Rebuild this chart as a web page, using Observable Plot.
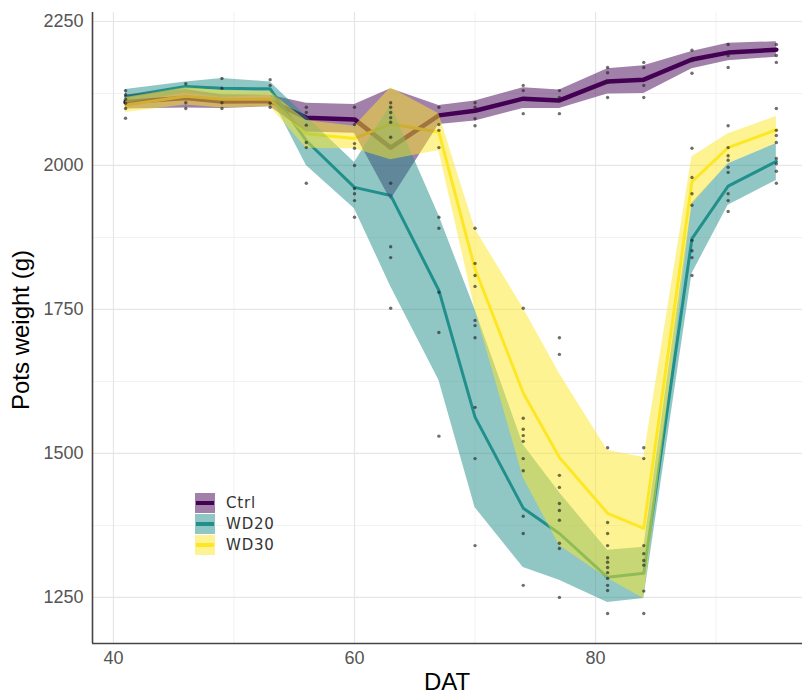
<!DOCTYPE html>
<html>
<head>
<meta charset="utf-8">
<script src="https://cdn.jsdelivr.net/npm/d3@7"></script>
<script src="https://cdn.jsdelivr.net/npm/@observablehq/plot@0.6"></script>
<style>
  body { margin: 0; background: #fff; }
  #wrap { position: relative; width: 802px; height: 695px; overflow: hidden; }
  #wrap svg { position: absolute; left: 0; top: 0; }
  .title { position: absolute; font-family: "Liberation Sans", Arial, sans-serif; font-size: 24px; color: #000; white-space: nowrap; }
  #xtitle { left: 447px; top: 668px; transform: translateX(-50%); }
  #ytitle { left: 21px; top: 330px; transform: translate(-50%, -50%) rotate(-90deg); }
  #legend { position: absolute; left: 195px; top: 492px; font-family: "DejaVu Sans", sans-serif; font-size: 15px; color: #333; letter-spacing: 0.8px; }
  .item { display: flex; align-items: center; height: 21px; }
  .key { position: relative; width: 20px; height: 20px; margin-right: 11px; background: #fff; }
  .key .ln { position: absolute; left: 1px; right: 1px; top: 8px; height: 4px; }
  .key .fl { position: absolute; left: 0; right: 0; top: 0; bottom: 0; }
</style>
</head>
<body>
<div id="wrap">
  <div id="xtitle" class="title">DAT</div>
  <div id="ytitle" class="title">Pots weight (g)</div>
  <div id="legend"></div>
</div>
<script>
// ---- data ----
const days = [41, 46, 49, 53, 56, 60, 63, 67, 70, 74, 77, 81, 84, 88, 91, 95];
const groups = ["Ctrl", "WD20", "WD30"];

const ctrlMean  = [2110, 2117, 2111, 2112, 2083, 2080, 2031, 2087, 2095, 2116, 2113, 2146, 2149, 2184, 2196, 2201];
const ctrlLower = [2098, 2100, 2099, 2102, 2058, 2056, 1940, 2071, 2077, 2099, 2099, 2124, 2125, 2168, 2182, 2188];
const ctrlUpper = [2122, 2132, 2123, 2122, 2108, 2106, 2133, 2104, 2112, 2135, 2131, 2168, 2173, 2198, 2212, 2215];

const wd20Mean  = [2120, 2137, 2134, 2133, 2043, 1962, 1948, 1783, 1563, 1405, 1361, 1285, 1292, 1873, 1964, 2007];
const wd20Lower = [2108, 2126, 2118, 2122, 2000, 1925, 1790, 1627, 1406, 1302, 1280, 1241, 1248, 1812, 1931, 1974];
const wd20Upper = [2132, 2145, 2151, 2145, 2085, 2005, 2105, 1913, 1750, 1515, 1432, 1332, 1337, 1935, 2003, 2038];

const wd30Mean  = [2105, 2120, 2115, 2115, 2055, 2047, 2072, 2058, 1820, 1605, 1493, 1396, 1370, 1972, 2031, 2062];
const wd30Lower = [2092, 2105, 2100, 2102, 2030, 2029, 2010, 2026, 1750, 1458, 1340, 1283, 1248, 1932, 2003, 2038];
const wd30Upper = [2118, 2135, 2130, 2128, 2078, 2068, 2135, 2090, 1890, 1752, 1639, 1505, 1493, 2015, 2055, 2085];

// individual pots
const dotDay = [
  41,41,41,41,41,41,
  46,46,46,
  49,49,49,49,
  53,53,53,53,
  56,56,56,56,56,56,
  60,60,60,60,60,60,60,60,60,
  63,63,63,63,63,63,63,63,63,63,
  67,67,67,67,67,67,67,67,67,
  70,70,70,70,70,70,70,70,70,70,70,70,70,70,
  74,74,74,74,74,74,74,74,74,74,74,74,74,
  77,77,77,77,77,77,77,77,77,77,77,77,77,
  81,81,81,81,81,81,81,81,81,81,81,81,81,81,81,81,
  84,84,84,84,84,84,84,84,84,84,84,84,
  88,88,88,88,88,88,88,88,88,88,88,
  91,91,91,91,91,91,91,91,91,91,91,91,
  95,95,95,95,95,95,95,95,95,95,95
];
const dotWeight = [
  2130,2123,2115,2108,2099,2082,
  2142,2109,2099,
  2151,2134,2109,2099,
  2149,2139,2108,2101,
  2101,2092,2070,2040,2031,1969,
  2101,2071,2038,2030,2000,1960,1951,1939,1910,
  2109,2101,2092,2083,2075,2049,1969,1859,1840,1752,
  2101,2071,2061,2031,1910,1891,1780,1710,1530,
  2109,2101,2081,2069,1891,1830,1809,1790,1731,1722,1701,1580,1491,1340,
  2139,2130,2090,1752,1561,1542,1531,1521,1491,1470,1391,1361,1271,
  2130,2118,2090,1701,1672,1462,1441,1413,1401,1384,1344,1335,1250,
  2170,2161,2144,2118,1510,1380,1361,1340,1319,1311,1302,1293,1283,1271,1262,1222,
  2179,2170,2139,2118,1510,1491,1340,1326,1314,1306,1261,1222,
  2200,2182,2160,2030,1979,1951,1931,1870,1852,1840,1809,
  2210,2191,2170,2069,2031,2017,2009,1997,1988,1951,1939,1920,
  2210,2191,2179,2099,2061,2052,2040,2012,2003,1990,1969
];

const xMajor = [40, 60, 80];
const xMinor = [50, 70, 90];
const yMajor = [1250, 1500, 1750, 2000, 2250];
const yMinor = [1375, 1625, 1875, 2125];

// ---- styling ----
const colors = {Ctrl: "#440154", WD20: "#21908C", WD30: "#FDE725"};
const lineWidth = {Ctrl: 4.5, WD20: 3, WD30: 3};
const xDomain = [38.26, 97.17];
const yDomain = [1170, 2265.6];

const series = {
  Ctrl: [ctrlMean, ctrlLower, ctrlUpper],
  WD20: [wd20Mean, wd20Lower, wd20Upper],
  WD30: [wd30Mean, wd30Lower, wd30Upper]
};
const rows = groups.flatMap(g => days.map((d, i) => ({
  group: g, day: d, mean: series[g][0][i], lower: series[g][1][i], upper: series[g][2][i]
})));
const dots = dotDay.map((d, i) => ({day: d, weight: dotWeight[i]}));

const marks = [
  Plot.ruleX(xMinor, {stroke: "#efefef", strokeWidth: 0.8}),
  Plot.ruleY(yMinor, {stroke: "#efefef", strokeWidth: 0.8}),
  Plot.ruleX(xMajor, {stroke: "#e6e6e6", strokeWidth: 1.2}),
  Plot.ruleY(yMajor, {stroke: "#e6e6e6", strokeWidth: 1.2}),
];
for (const g of groups) {
  marks.push(Plot.line(rows.filter(r => r.group === g), {
    x: "day", y: "mean", stroke: colors[g], strokeWidth: lineWidth[g], strokeLinejoin: "round"
  }));
}
for (const g of groups) {
  marks.push(Plot.areaY(rows.filter(r => r.group === g), {
    x: "day", y1: "lower", y2: "upper", fill: colors[g], fillOpacity: 0.5
  }));
}
marks.push(Plot.dot(dots, {x: "day", y: "weight", r: 1.7, fill: "#222", fillOpacity: 0.65, stroke: "none"}));
marks.push(Plot.ruleX([xDomain[0]], {stroke: "#444", strokeWidth: 1.6}));
marks.push(Plot.ruleY([yDomain[0]], {stroke: "#444", strokeWidth: 1.6}));

const chart = Plot.plot({
  width: 802,
  height: 695,
  marginLeft: 92,
  marginRight: 0,
  marginTop: 12,
  marginBottom: 52,
  style: {fontFamily: '"Liberation Sans", Arial, sans-serif', fontSize: "18px", color: "#555", background: "transparent"},
  x: {domain: xDomain, ticks: xMajor, tickSize: 0, tickPadding: 8, tickFormat: d => String(d), label: null},
  y: {domain: yDomain, ticks: yMajor, tickSize: 0, tickPadding: 9, tickFormat: d => String(d), label: null},
  marks
});
document.getElementById("wrap").prepend(chart);

// legend
const legend = document.getElementById("legend");
for (const g of groups) {
  const item = document.createElement("div");
  item.className = "item";
  const key = document.createElement("div");
  key.className = "key";
  const ln = document.createElement("div");
  ln.className = "ln";
  ln.style.background = colors[g];
  const fl = document.createElement("div");
  fl.className = "fl";
  fl.style.background = colors[g];
  fl.style.opacity = 0.5;
  key.append(ln, fl);
  const label = document.createElement("span");
  label.textContent = g;
  item.append(key, label);
  legend.append(item);
}
</script>
</body>
</html>
